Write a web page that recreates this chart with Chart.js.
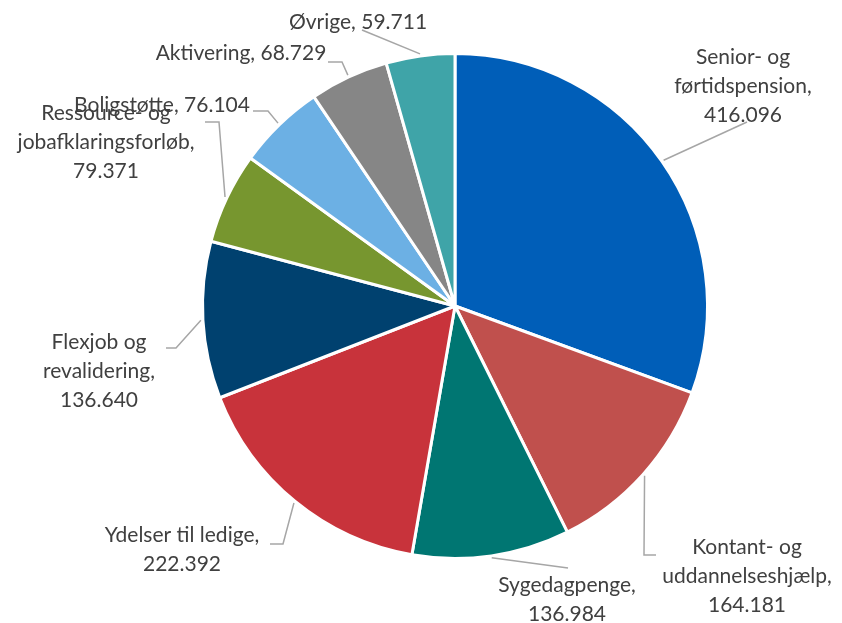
<!DOCTYPE html>
<html>
<head>
<meta charset="utf-8">
<script src="https://cdn.jsdelivr.net/npm/chart.js@4"></script>
<style>
  html, body { margin: 0; padding: 0; background: #fff; }
  #wrap { width: 842px; height: 623px; }
</style>
</head>
<body>
<div id="wrap"><canvas id="chart" width="842" height="623"></canvas></div>
<script>
/* ---- dados ---- */
const categorias = [
  'Senior- og førtidspension',
  'Kontant- og uddannelseshjælp',
  'Sygedagpenge',
  'Ydelser til ledige',
  'Flexjob og revalidering',
  'Ressource- og jobafklaringsforløb',
  'Boligstøtte',
  'Aktivering',
  'Øvrige'
];
const valores = [416096, 164181, 136984, 222392, 136640, 79371, 76104, 68729, 59711];
const cores = ['#005EB8', '#C0504D', '#007672', '#C8333B', '#00416F', '#77962F', '#6CB0E4', '#868686', '#3FA4A8'];

/* ---- layout dos rótulos: centro do texto, cotovelo e fim da linha-guia ---- */
const rotulos = [
  { x: 743, y: 57,  maxW: 175, linha: [[747, 122]] },
  { x: 747, y: 547, maxW: 175, linha: [[644, 555], [656, 555]] },
  { x: 567, y: 585, maxW: 175, linha: [[568, 568]] },
  { x: 182, y: 535, maxW: 175, linha: [[283, 544], [270, 544]] },
  { x: 99,  y: 342, maxW: 175, linha: [[176, 348], [166, 348]] },
  { x: 106, y: 113, maxW: 175, linha: [[219, 122], [205, 122]] },
  { x: 162, y: 105, maxW: 400, linha: [[268, 111], [253, 111]] },
  { x: 241, y: 53,  maxW: 400, linha: [[342, 62], [328, 62]] },
  { x: 358, y: 22,  maxW: 400, linha: [[362, 30]] }
];

const FONTE = '21px Lato';
const ALTURA_LINHA = 29;

function fmt(v) {
  return String(v).replace(/\B(?=(\d{3})+(?!\d))/g, '.');
}

function quebrar(ctx, texto, maxW) {
  const palavras = texto.split(' ');
  const linhas = [];
  let atual = '';
  palavras.forEach(p => {
    const teste = atual ? atual + ' ' + p : p;
    if (atual && ctx.measureText(teste).width > maxW) {
      linhas.push(atual);
      atual = p;
    } else {
      atual = teste;
    }
  });
  if (atual) linhas.push(atual);
  return linhas;
}

const rotulosPlugin = {
  id: 'rotulos',
  afterDatasetsDraw(chart) {
    const ctx = chart.ctx;
    const meta = chart.getDatasetMeta(0);
    ctx.save();
    meta.data.forEach((arc, i) => {
      const r = rotulos[i];
      const p = arc.getProps(['x', 'y', 'startAngle', 'endAngle', 'outerRadius'], true);
      const meio = (p.startAngle + p.endAngle) / 2;
      const ax = p.x + Math.cos(meio) * (p.outerRadius + 2);
      const ay = p.y + Math.sin(meio) * (p.outerRadius + 2);

      ctx.strokeStyle = '#A6A6A6';
      ctx.lineWidth = 1.5;
      ctx.beginPath();
      ctx.moveTo(ax, ay);
      r.linha.forEach(pt => ctx.lineTo(pt[0], pt[1]));
      ctx.stroke();

      ctx.font = FONTE;
      ctx.fillStyle = '#404040';
      ctx.textAlign = 'center';
      ctx.textBaseline = 'middle';
      const linhas = quebrar(ctx, categorias[i] + ', ' + fmt(valores[i]), r.maxW);
      linhas.forEach((l, k) => ctx.fillText(l, r.x, r.y + k * ALTURA_LINHA));
    });
    ctx.restore();
  }
};

new Chart(document.getElementById('chart'), {
  type: 'pie',
  data: {
    labels: categorias,
    datasets: [{
      data: valores,
      backgroundColor: cores,
      borderColor: '#ffffff',
      borderWidth: 3
    }]
  },
  options: {
    responsive: false,
    animation: false,
    layout: { padding: { top: 52, bottom: 63, left: 100, right: 32 } },
    plugins: {
      legend: { display: false },
      tooltip: { enabled: false }
    }
  },
  plugins: [rotulosPlugin]
});
</script>
</body>
</html>
